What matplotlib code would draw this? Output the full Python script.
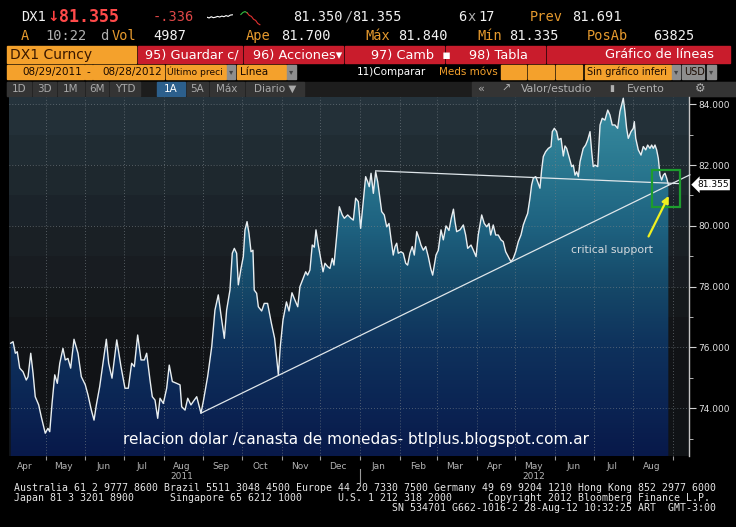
import datetime as dt
import numpy as np
import matplotlib
matplotlib.use("Agg")
import matplotlib.pyplot as plt
import matplotlib.dates as mdates
import matplotlib.transforms as mtransforms
from matplotlib.colors import LinearSegmentedColormap
from matplotlib.patches import Polygon, Rectangle
from matplotlib.ticker import FixedLocator, FormatStrFormatter

# DX1 close: days after 2011-04-01 and index level
day_offsets = [
    2.9, 4.7, 6.5, 8.0, 9.9, 12.5, 15.0, 16.4, 18.5, 20.3,
    22.0, 24.7, 26.7, 29.8, 31.9, 33.3, 35.1, 37.2, 39.2, 41.1,
    43.6, 45.4, 47.5, 49.6, 52.2, 55.3, 57.9, 61.0, 63.1, 65.7,
    67.8, 69.6, 72.2, 74.8, 77.4, 79.2, 81.8, 85.5, 88.8, 91.9,
    94.5, 97.1, 99.2, 101.8, 104.4, 107.0, 108.8, 111.4, 113.2, 115.3,
    117.4, 119.2, 121.8, 124.4, 126.4, 128.8, 132.2, 134.8, 136.1, 138.7,
    140.8, 143.3, 145.9, 147.8, 151.1, 152.9, 156.3, 159.5, 162.0, 164.6,
    166.7, 169.3, 171.1, 173.7, 175.5, 177.1, 178.9, 180.2, 182.3, 184.1,
    185.4, 187.0, 188.5, 190.1, 191.6, 192.6, 194.5, 195.8, 198.4, 200.4,
    203.0, 206.0, 208.5, 211.4, 212.9, 215.0, 217.7, 219.7, 222.0, 223.9,
    226.5, 228.2, 230.8, 232.7, 234.2, 236.0, 237.8, 239.4, 240.7, 242.5,
    244.6, 246.2, 247.7, 249.8, 251.6, 253.4, 254.7, 256.8, 258.9, 261.2,
    262.8, 265.4, 268.0, 269.8, 271.6, 273.7, 275.5, 277.6, 279.4, 281.0,
    282.2, 283.6, 285.4, 287.2, 288.8, 290.0, 291.9, 293.9, 295.8, 297.6,
    299.1, 300.9, 302.3, 303.6, 304.8, 306.9, 308.7, 310.6, 312.1, 313.9,
    315.7, 317.3, 319.2, 321.0, 322.5, 324.3, 326.2, 328.2, 330.1, 331.6,
    332.9, 334.2, 336.0, 338.1, 339.9, 342.0, 344.3, 346.1, 347.8, 349.0,
    350.3, 352.9, 355.5, 357.3, 358.9, 361.5, 363.3, 365.4, 367.1, 369.8,
    371.8, 373.7, 375.5, 376.8, 378.8, 380.7, 382.7, 384.8, 386.6, 388.5,
    390.5, 392.6, 394.4, 396.3, 398.3, 400.4, 402.2, 404.1, 405.6, 407.4,
    408.7, 410.0, 411.9, 413.4, 415.2, 416.5, 417.8, 419.6, 421.7, 423.8,
    424.8, 426.4, 428.2, 429.5, 431.6, 433.4, 434.7, 436.0, 437.8, 439.9,
    441.2, 442.5, 443.8, 445.1, 446.4, 448.9, 450.8, 452.4, 454.2, 455.5,
    456.7, 458.1, 460.2, 462.0, 463.7, 465.8, 468.0, 469.7, 471.5, 473.6,
    475.7, 477.5, 478.8, 480.1, 481.4, 482.7, 484.0, 486.1, 487.9, 488.7,
    489.8, 491.8, 493.9, 495.7, 497.6, 499.1, 500.9, 502.2, 503.5, 504.8,
    506.1, 507.4, 508.7, 510.0, 511.3, 512.6, 513.9, 515.2,
]
dx_close = [
    76.14, 76.19, 75.81, 75.86, 75.32, 75.20, 74.93, 75.04, 75.81, 75.15,
    74.38, 74.11, 73.72, 73.18, 73.34, 73.23, 74.16, 75.10, 74.82, 75.48,
    75.97, 75.59, 75.64, 75.32, 76.27, 75.81, 75.04, 74.77, 74.44, 73.94,
    73.61, 74.11, 74.71, 75.48, 76.27, 75.48, 74.99, 76.25, 75.37, 74.66,
    74.66, 75.48, 75.37, 76.41, 75.59, 75.59, 75.81, 74.93, 74.38, 74.27,
    73.67, 74.33, 74.16, 74.66, 75.42, 74.88, 74.82, 74.77, 74.05, 73.94,
    74.33, 74.11, 74.27, 74.38, 73.84, 74.22, 75.04, 76.03, 77.23, 77.73,
    77.07, 76.30, 77.23, 77.89, 79.10, 79.26, 79.10, 78.06, 78.60, 78.99,
    79.87, 80.14, 79.76, 79.15, 79.20, 77.89, 77.78, 77.34, 77.20, 77.45,
    77.45, 76.79, 76.30, 75.10, 76.03, 76.90, 77.50, 77.20, 77.80, 77.60,
    77.34, 78.00, 78.28, 78.49, 78.38, 78.55, 79.37, 79.30, 79.87, 79.37,
    78.88, 78.49, 78.77, 78.66, 78.60, 78.93, 78.71, 79.65, 80.63, 80.36,
    80.25, 80.36, 80.25, 80.19, 80.91, 80.80, 79.92, 80.85, 81.62, 81.45,
    81.29, 81.73, 81.07, 81.78, 81.45, 81.07, 80.47, 80.36, 79.97, 80.08,
    79.59, 79.04, 79.32, 79.43, 79.10, 79.15, 79.10, 78.77, 78.71, 79.10,
    79.32, 79.04, 79.81, 79.59, 79.37, 79.20, 79.32, 78.99, 78.60, 78.38,
    78.71, 79.04, 79.20, 79.87, 79.54, 80.00, 79.85, 80.25, 80.55, 80.14,
    79.81, 79.87, 80.03, 79.70, 79.26, 79.37, 79.20, 78.99, 79.70, 80.36,
    80.08, 79.97, 80.08, 79.70, 80.03, 79.70, 79.70, 79.54, 79.48, 79.15,
    78.99, 78.82, 78.93, 79.15, 79.48, 79.70, 80.03, 80.25, 80.41, 80.91,
    81.35, 81.57, 81.62, 81.45, 81.24, 81.84, 82.28, 82.44, 82.55, 82.61,
    83.10, 83.21, 83.10, 82.83, 82.88, 82.30, 82.63, 82.55, 82.28, 81.95,
    82.00, 81.67, 81.78, 81.62, 82.11, 82.55, 82.66, 82.83, 83.10, 82.44,
    81.95, 82.00, 81.95, 83.32, 83.54, 83.48, 83.81, 83.65, 83.32, 83.32,
    83.21, 83.76, 83.98, 84.20, 83.76, 83.21, 82.88, 83.10, 83.21, 83.43,
    82.88, 82.50, 82.33, 82.61, 82.50, 82.66, 82.55, 82.66, 82.55, 82.66,
    82.50, 82.22, 81.67, 81.51, 81.67, 81.73, 81.57, 81.36,
]
assert len(day_offsets) == len(dx_close)

# hand drawn lines (day offset, level)
support_line = [(151.1, 73.84), (532.0, 81.68)]
resistance_line = [(287.2, 81.81), (524.3, 81.39)]
box_days, box_levels = (502.2, 524.3), (80.63, 81.84)
arrow_from, arrow_to = (498.8, 79.57), (516.5, 81.07)
last_price = 81.355

y_ticks = [74, 76, 78, 80, 82, 84]
y_minor = [73, 75, 77, 79, 81, 83]

# header quote line
quote_row1 = [("DX1", 21, "w"), ("81.350", 293, "w"), ("/", 344, "g"), ("81.355", 352, "w"),
              ("6", 458, "w"), ("x", 468, "g"), ("17", 478, "w"),
              ("Prev", 530, "o"), ("81.691", 572, "w")]
quote_row2 = [("A", 21, "o"), ("10:22", 45, "g"), ("d", 100, "g"), ("Vol", 112, "o"),
              ("4987", 153, "w"), ("Ape", 246, "o"), ("81.700", 281, "w"),
              ("Máx", 365, "o"), ("81.840", 398, "w"), ("Mín", 477, "o"),
              ("81.335", 509, "w"), ("PosAb", 587, "o"), ("63825", 653, "w")]
spark_white = [0.55, 0.5, 0.58, 0.52, 0.55, 0.6, 0.56, 0.62, 0.58, 0.65, 0.6, 0.68, 0.7]
spark_green = [0.72, 0.85, 0.9, 0.82]
spark_red = [0.82, 0.66, 0.6, 0.42, 0.35, 0.16, 0.08]

red_buttons = [("95) Guardar c/", 138, 242, 145), ("96) Acciones▾", 244, 343, 253),
               ("97) Camb  ▪", 345, 444, 371), ("98) Tabla", 446, 545, 469)]
period_buttons = [("1D", 7, 31), ("3D", 33, 56), ("1M", 58, 84), ("6M", 86, 108),
                  ("YTD", 110, 140), ("1A", 157, 185), ("5A", 187, 208),
                  ("Máx", 210, 244), ("Diario ▼", 246, 304)]

footer = [
    "Australia 61 2 9777 8600 Brazil 5511 3048 4500 Europe 44 20 7330 7500 Germany 49 69 9204 1210 Hong Kong 852 2977 6000",
    "Japan 81 3 3201 8900      Singapore 65 6212 1000      U.S. 1 212 318 2000      Copyright 2012 Bloomberg Finance L.P.",
    "SN 534701 G662-1016-2 28-Aug-12 10:32:25 ART  GMT-3:00",
]

W, H = 736, 527
ORANGE = "#f4a12c"
RED = "#c91c2c"
cols = {"w": "#f2f2f2", "g": "#b0b0b0", "o": "#e69a2e"}

fig = plt.figure(figsize=(W / 100, H / 100), dpi=100, facecolor="black")

# ---- header / footer drawn in pixel space
hdr = fig.add_axes([0, 0, 1, 1], zorder=0)
hdr.set_xlim(0, W)
hdr.set_ylim(H, 0)
hdr.axis("off")
mono = "DejaVu Sans Mono"

for txt, x, c in quote_row1:
    hdr.text(x, 17, txt, color=cols[c], family=mono, fontsize=9.8, va="center")
hdr.text(47, 17, "↓", color="#ff4040", fontsize=10, va="center", fontweight="bold")
hdr.text(59, 17, "81.355", color="#ff4a4a", family=mono, fontsize=12, va="center", fontweight="bold")
hdr.text(153, 17, "-.336", color="#e04848", family=mono, fontsize=9.8, va="center")
for txt, x, c in quote_row2:
    hdr.text(x, 36, txt, color=cols[c], family=mono, fontsize=9.8, va="center")

sp = fig.add_axes([207 / W, 1 - 26 / H, 55 / W, 16 / H])
sp.axis("off")
n1, n2 = len(spark_white), len(spark_green)
sp.plot(range(n1), spark_white, color="white", lw=0.8)
sp.plot(range(n1 + 3, n1 + 3 + n2), spark_green, color="#30c040", lw=0.8)
sp.plot(range(n1 + 2 + n2, n1 + 2 + n2 + len(spark_red)), spark_red, color="#e03030", lw=0.8)
sp.set_xlim(0, n1 + 2 + n2 + len(spark_red))
sp.set_ylim(0, 1)

# row 3: security box and red action buttons
hdr.add_patch(Rectangle((7, 46), 129, 17, color=ORANGE))
hdr.text(10, 55, "DX1 Curncy", color="#3a1800", fontsize=10, va="center")
for txt, x0, x1, tx in red_buttons:
    hdr.add_patch(Rectangle((x0, 46), x1 - x0, 17, color=RED))
    hdr.text(tx, 55, txt, color="white", fontsize=9.3, va="center")
hdr.add_patch(Rectangle((547, 46), 183, 17, color=RED))
hdr.text(714, 55, "Gráfico de líneas", color="white", fontsize=9.3, va="center", ha="right")

# row 4: date range and options
for x0, x1 in [(7, 84), (85, 92), (93, 164), (166, 226), (237, 286),
               (501, 526), (528, 554), (556, 582), (585, 671)]:
    hdr.add_patch(Rectangle((x0, 65), x1 - x0, 14, color=ORANGE))
for x0, x1 in [(227, 235), (287, 296), (672, 680), (682, 704), (707, 716)]:
    hdr.add_patch(Rectangle((x0, 65), x1 - x0, 14, color="#8e8e8e"))
row4 = [("08/29/2011", 82, "right", 7.5), ("-", 88.5, "center", 7.5),
        ("08/28/2012", 162, "right", 7.5), ("Último preci", 167, "left", 6.6),
        ("Línea", 240, "left", 7.5), ("Sin gráfico inferi", 587, "left", 7.0),
        ("USD", 684, "left", 7.0)]
for txt, x, ha, fs in row4:
    hdr.text(x, 72, txt, color="#1a0a00", fontsize=fs, va="center", ha=ha)
for x in (231, 291.5, 676, 711.5):
    hdr.text(x, 72, "▾", color="#444444", fontsize=6, va="center", ha="center")
hdr.text(357, 72, "11)Comparar", color="white", fontsize=7.5, va="center")
hdr.text(439, 72, "Meds móvs", color=ORANGE, fontsize=7.5, va="center")

# row 5: period buttons and tools
hdr.add_patch(Rectangle((7, 82), 729, 14, color="#1d1d1d"))
for txt, x0, x1 in period_buttons:
    fc = "#2c5f8c" if txt == "1A" else "#343434"
    hdr.add_patch(Rectangle((x0, 82), x1 - x0, 14, color=fc))
    hdr.text((x0 + x1) / 2, 89, txt, color="white" if txt == "1A" else "#a9a9a9",
             fontsize=7.5, va="center", ha="center")
hdr.add_patch(Rectangle((472, 82), 264, 14, color="#343434"))
hdr.text(481, 89, "«", color="#b0b0b0", fontsize=8, va="center", ha="center")
hdr.text(506, 89, "↗", color="#b0b0b0", fontsize=8, va="center", ha="center")
hdr.text(521, 89, "Valor/estudio", color="#b0b0b0", fontsize=7.8, va="center")
hdr.text(612, 89, "▮", color="#b0b0b0", fontsize=6.5, va="center", ha="center")
hdr.text(627, 89, "Evento", color="#b0b0b0", fontsize=7.8, va="center")
hdr.text(700, 89, "⚙", color="#b0b0b0", fontsize=8.5, va="center", ha="center")

for i, line in enumerate(footer[:2]):
    hdr.text(14, 488 + 10 * i, line, color="#e6e6e6", family=mono, fontsize=7.15, va="center")
hdr.text(716, 508, footer[2], color="#e6e6e6", family=mono, fontsize=7.15, va="center", ha="right")

# ---- price chart
base = mdates.date2num(dt.datetime(2011, 4, 1))
x = base + np.array(day_offsets)
v = np.array(dx_close)
x0, x1 = base + 1.56, base + 531.3
y0, y1 = 72.43, 84.24

ax = fig.add_axes([9 / W, 1 - 456 / H, 680 / W, 359 / H], zorder=1)
ax.set_xlim(x0, x1)
ax.set_ylim(y0, y1)

bg_cmap = LinearSegmentedColormap.from_list(
    "bg", [(0.0, "#101316"), (0.3, "#121416"), (0.47, "#171b1f"),
           (0.64, "#1b2228"), (0.81, "#1f2a31"), (1.0, "#25333c")])
fill_cmap = LinearSegmentedColormap.from_list(
    "fill", [(0.0, "#08194a"), (0.135, "#0b2453"), (0.3, "#0e315c"), (0.47, "#154868"),
             (0.64, "#1e6280"), (0.81, "#2a7890"), (1.0, "#3a8ea2")])
yy = np.linspace(y0, y1, 500)
band = (np.floor(yy) + 0.5 - y0) / (y1 - y0)
bg = bg_cmap(np.clip(band, 0, 1))[:, None, :3]
ax.imshow(bg, extent=[x0, x1, y0, y1], origin="lower", aspect="auto",
          interpolation="nearest", zorder=0)

fill = fill_cmap((yy - y0) / (y1 - y0))[:, None, :3]
im = ax.imshow(fill, extent=[x0, x1, y0, y1], origin="lower", aspect="auto", zorder=1)
verts = [(x[0], y0)] + list(zip(x, v)) + [(x[-1], y0)]
area = Polygon(verts, closed=True, facecolor="none", edgecolor="none")
ax.add_patch(area)
im.set_clip_path(area)

ax.plot(x, v, color="#e8eef1", lw=1.0, zorder=3)

for (da, va_), (db, vb) in (support_line, resistance_line):
    ax.plot([base + da, base + db], [va_, vb], color="#dfe6ea", lw=0.9, zorder=3, clip_on=False)

ax.add_patch(Rectangle((base + box_days[0], box_levels[0]), box_days[1] - box_days[0],
                       box_levels[1] - box_levels[0], fill=False, ec="#1d9c2e", lw=1.6, zorder=4))
ax.annotate("", xy=(base + arrow_to[0], arrow_to[1]), xytext=(base + arrow_from[0], arrow_from[1]),
            arrowprops=dict(arrowstyle="-|>", color="#f0f020", lw=1.6, mutation_scale=10), zorder=5)
ax.text(base + 471.3, 79.2, "critical support", color="#d5dade", fontsize=7.8,
        ha="center", va="center", zorder=5)
ax.text(0.511, 0.045, "relacion dolar /canasta de monedas- btlplus.blogspot.com.ar",
        transform=ax.transAxes, color="white", fontsize=11, ha="center", va="center", zorder=5)

# grid + axes
ax.set_axisbelow(False)
ax.xaxis.set_major_locator(mdates.MonthLocator())
ax.xaxis.set_major_formatter(plt.NullFormatter())
ax.xaxis.set_minor_locator(mdates.MonthLocator(bymonthday=15))
ax.xaxis.set_minor_formatter(mdates.DateFormatter("%b"))
ax.yaxis.set_major_locator(FixedLocator(y_ticks))
ax.yaxis.set_minor_locator(FixedLocator(y_minor))
ax.yaxis.set_major_formatter(FormatStrFormatter("%.3f"))
ax.yaxis.tick_right()
ax.grid(which="major", color="#7a8288", lw=0.6, linestyle=(0, (1, 2.5)), alpha=0.8)
ax.tick_params(axis="x", which="major", length=3, color="#9a9a9a", direction="out")
ax.tick_params(axis="x", which="minor", length=0, labelsize=6.5, labelcolor="#b4b4b4", pad=4)
ax.tick_params(axis="y", which="major", length=5, color="#d0d0d0", labelsize=6.5,
               labelcolor="#e0e0e0", pad=1.5)
ax.tick_params(axis="y", which="minor", length=3, color="#d0d0d0")
for s in ("top", "left", "bottom"):
    ax.spines[s].set_visible(False)
ax.spines["right"].set_color("#c4c4c4")
ax.spines["right"].set_linewidth(1.0)

blend = mtransforms.blended_transform_factory(ax.transData, ax.transAxes)
ax.text(mdates.date2num(dt.datetime(2011, 8, 15)), -0.056, "2011", transform=blend,
        color="#b4b4b4", fontsize=6.5, ha="center", va="center")
ax.text(mdates.date2num(dt.datetime(2012, 5, 15)), -0.056, "2012", transform=blend,
        color="#b4b4b4", fontsize=6.5, ha="center", va="center")
jan = mdates.date2num(dt.datetime(2012, 1, 1))
ax.plot([jan, jan], [-0.035, -0.078], transform=blend, color="#9a9a9a", lw=0.8, clip_on=False)

yblend = mtransforms.blended_transform_factory(ax.transAxes, ax.transData)
ax.text(1.012, last_price, "81.355", transform=yblend, color="black", fontsize=6.5,
        ha="left", va="center", zorder=6,
        bbox=dict(boxstyle="larrow,pad=0.12", fc="white", ec="none"))

fig.savefig("out.png", dpi=100, facecolor="black")
